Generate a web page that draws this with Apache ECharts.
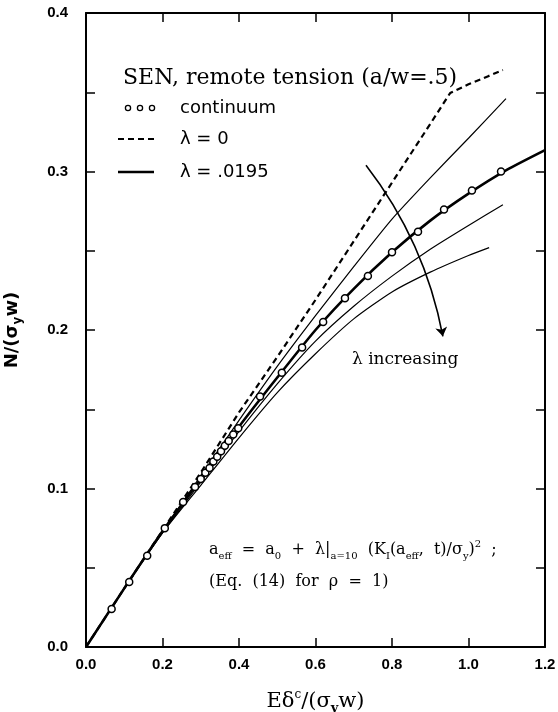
<!DOCTYPE html>
<html>
<head>
<meta charset="utf-8">
<script src="https://cdn.jsdelivr.net/npm/echarts@6/dist/echarts.min.js"></script>
<style>
  html, body { margin: 0; padding: 0; background: #fff; }
  #main { width: 558px; height: 712px; }
</style>
</head>
<body>
<div id="main"></div>
<script>
// continuum results (open circles)
var contX = [0.067, 0.113, 0.160, 0.206, 0.254, 0.285, 0.300, 0.312, 0.323, 0.333, 0.343, 0.353, 0.363, 0.373, 0.385, 0.398, 0.455, 0.512, 0.565, 0.620, 0.677, 0.737, 0.800, 0.868, 0.936, 1.009, 1.085];
var contY = [0.024, 0.041, 0.0575, 0.075, 0.0915, 0.101, 0.106, 0.110, 0.113, 0.117, 0.120, 0.1235, 0.127, 0.130, 0.134, 0.138, 0.158, 0.173, 0.189, 0.205, 0.220, 0.234, 0.249, 0.262, 0.276, 0.288, 0.300];

// lambda = 0 (dashed)
var lam0X = [0, 0.1, 0.2, 0.3, 0.4, 0.5, 0.6, 0.7, 0.8, 0.9, 0.952, 1.0, 1.05, 1.09];
var lam0Y = [0, 0.037, 0.0735, 0.110, 0.148, 0.183, 0.219, 0.256, 0.293, 0.330, 0.3495, 0.355, 0.360, 0.364];

// lambda = .0195 (thick)
var lamRefX = [0, 0.1, 0.2, 0.3, 0.4, 0.5, 0.6, 0.7, 0.8, 0.9, 1.0, 1.1, 1.2];
var lamRefY = [0, 0.037, 0.073, 0.106, 0.139, 0.170, 0.200, 0.226, 0.249, 0.269, 0.286, 0.301, 0.3135];

// other lambda values (thin), increasing lambda
var lamAX = [0, 0.1, 0.2, 0.3, 0.4, 0.5, 0.6, 0.7, 0.8, 0.9, 1.0, 1.098];
var lamAY = [0, 0.037, 0.073, 0.108, 0.143, 0.177, 0.209, 0.240, 0.270, 0.296, 0.321, 0.346];
var lamBX = [0, 0.1, 0.2, 0.3, 0.4, 0.5, 0.6, 0.7, 0.8, 0.9, 1.0, 1.09];
var lamBY = [0, 0.037, 0.072, 0.104, 0.136, 0.166, 0.193, 0.215, 0.234, 0.251, 0.266, 0.279];
var lamCX = [0, 0.1, 0.2, 0.3, 0.4, 0.5, 0.6, 0.7, 0.8, 0.9, 1.0, 1.054];
var lamCY = [0, 0.037, 0.072, 0.102, 0.132, 0.1605, 0.185, 0.207, 0.224, 0.2365, 0.247, 0.252];

// "lambda increasing" arrow ends
var arrowFrom = [0.732, 0.304];
var arrowTo = [0.933, 0.196];

function zip(xs, ys) {
  return xs.map(function (x, i) { return [x, ys[i]]; });
}

// fresh style objects for each axis
function axisLine() {
  return { show: true, onZero: false, lineStyle: { color: '#000', width: 2 } };
}
function axisTick() {
  return { show: true, inside: true, length: 9, lineStyle: { color: '#000', width: 1.5 } };
}
function labelFont(extra) {
  return Object.assign({ color: '#000', fontFamily: 'Liberation Sans', fontWeight: 'bold', fontSize: 15 }, extra);
}

var myChart = echarts.init(document.getElementById('main'));
var thin = { color: '#000', width: 1.2 };

myChart.setOption({
  animation: false,
  backgroundColor: '#fff',
  grid: { left: 86, right: 13, top: 13, bottom: 65, containLabel: false, outerBoundsMode: 'none' },
  xAxis: [
    {
      type: 'value', min: 0, max: 1.2, interval: 0.2,
      axisLine: axisLine(), axisTick: axisTick(), splitLine: { show: false },
      axisLabel: labelFont({ margin: 10, formatter: function (v) { return v.toFixed(1); } }),
      name: 'Eδ{sup|c}/(σ{sub|y}w)', nameLocation: 'middle', nameGap: 42,
      nameTextStyle: {
        color: '#000', fontFamily: 'DejaVu Serif', fontSize: 21, lineHeight: 26,
        rich: {
          sup: { fontFamily: 'DejaVu Serif', fontSize: 12, verticalAlign: 'top', lineHeight: 26, color: '#000' },
          sub: { fontFamily: 'DejaVu Serif', fontSize: 13, fontWeight: 'bold', verticalAlign: 'bottom', lineHeight: 26, color: '#000' }
        }
      }
    },
    {
      type: 'value', position: 'top', min: 0, max: 1.2, interval: 0.2,
      axisLine: axisLine(), axisTick: axisTick(), axisLabel: { show: false }, splitLine: { show: false }
    }
  ],
  yAxis: [
    {
      type: 'value', min: 0, max: 0.4, interval: 0.05,
      axisLine: axisLine(), axisTick: axisTick(), splitLine: { show: false },
      axisLabel: labelFont({
        margin: 18,
        formatter: function (v) { return Math.round(v * 100) % 10 === 0 ? v.toFixed(1) : ''; }
      }),
      name: 'N/(σ{sub|y}w)', nameLocation: 'middle', nameGap: 62,
      nameTextStyle: {
        color: '#000', fontFamily: 'DejaVu Sans', fontWeight: 'bold', fontSize: 18, lineHeight: 24,
        rich: {
          sub: { fontFamily: 'DejaVu Sans', fontWeight: 'bold', fontSize: 12, verticalAlign: 'bottom', lineHeight: 24, color: '#000' }
        }
      }
    },
    {
      type: 'value', position: 'right', min: 0, max: 0.4, interval: 0.05,
      axisLine: axisLine(), axisTick: axisTick(), axisLabel: { show: false }, splitLine: { show: false }
    }
  ],
  series: [
    { name: 'C', type: 'line', data: zip(lamCX, lamCY), symbol: 'none', smooth: 0.2, lineStyle: thin },
    { name: 'B', type: 'line', data: zip(lamBX, lamBY), symbol: 'none', smooth: 0.2, lineStyle: thin },
    { name: 'A', type: 'line', data: zip(lamAX, lamAY), symbol: 'none', smooth: 0.2, lineStyle: thin },
    { name: 'λ = .0195', type: 'line', data: zip(lamRefX, lamRefY), symbol: 'none', smooth: 0.2,
      lineStyle: { color: '#000', width: 2.6 } },
    { name: 'λ = 0', type: 'line', data: zip(lam0X, lam0Y), symbol: 'none', smooth: false,
      lineStyle: { color: '#000', width: 2.2, type: [6, 4] } },
    { name: 'continuum', type: 'scatter', data: zip(contX, contY), symbol: 'circle', symbolSize: 7, z: 5,
      itemStyle: { color: '#fff', borderColor: '#000', borderWidth: 1.5, opacity: 1 } },
    { type: 'lines', coordinateSystem: 'cartesian2d', symbol: ['none', 'arrow'], symbolSize: 9,
      lineStyle: { color: '#000', width: 1.6, curveness: 0.12, opacity: 1 },
      data: [{ coords: [arrowFrom, arrowTo] }] }
  ],
  graphic: [
    { type: 'text', x: 123, y: 78, style: { text: 'SEN, remote tension (a/w=.5)', fontFamily: 'DejaVu Serif', fontSize: 22, fill: '#000', verticalAlign: 'middle' } },
    { type: 'circle', shape: { cx: 128, cy: 108, r: 2.6 }, style: { fill: '#fff', stroke: '#000', lineWidth: 1.3 } },
    { type: 'circle', shape: { cx: 140, cy: 108, r: 2.6 }, style: { fill: '#fff', stroke: '#000', lineWidth: 1.3 } },
    { type: 'circle', shape: { cx: 152, cy: 108, r: 2.6 }, style: { fill: '#fff', stroke: '#000', lineWidth: 1.3 } },
    { type: 'text', x: 180, y: 108, style: { text: 'continuum', fontFamily: 'DejaVu Sans', fontSize: 18, fill: '#000', verticalAlign: 'middle' } },
    { type: 'line', shape: { x1: 118, y1: 139, x2: 154, y2: 139 }, style: { stroke: '#000', lineWidth: 2, lineDash: [6, 4] } },
    { type: 'text', x: 180, y: 139, style: { text: 'λ = 0', fontFamily: 'DejaVu Sans', fontSize: 18, fill: '#000', verticalAlign: 'middle' } },
    { type: 'line', shape: { x1: 118, y1: 172, x2: 154, y2: 172 }, style: { stroke: '#000', lineWidth: 2.5 } },
    { type: 'text', x: 180, y: 172, style: { text: 'λ = .0195', fontFamily: 'DejaVu Sans', fontSize: 18, fill: '#000', verticalAlign: 'middle' } },
    { type: 'text', x: 352, y: 360, style: { text: 'λ increasing', fontFamily: 'DejaVu Serif', fontSize: 17, fill: '#000', verticalAlign: 'middle' } },
    { type: 'text', x: 209, y: 550, style: {
        text: 'a{sub|eff}  =  a{sub|0}  +  λ|{sub|a=10}  (K{sub|I}(a{sub|eff},  t)/σ{sub|y}){sup|2}  ;',
        fontFamily: 'DejaVu Serif', fontSize: 16, fill: '#000', verticalAlign: 'middle', lineHeight: 22,
        rich: {
          sub: { fontFamily: 'DejaVu Serif', fontSize: 10, verticalAlign: 'bottom', lineHeight: 22, fill: '#000' },
          sup: { fontFamily: 'DejaVu Serif', fontSize: 10, verticalAlign: 'top', lineHeight: 22, fill: '#000' }
        } } },
    { type: 'text', x: 209, y: 582, style: { text: '(Eq.  (14)  for  ρ  =  1)', fontFamily: 'DejaVu Serif', fontSize: 16, fill: '#000', verticalAlign: 'middle' } }
  ]
});
</script>
</body>
</html>
